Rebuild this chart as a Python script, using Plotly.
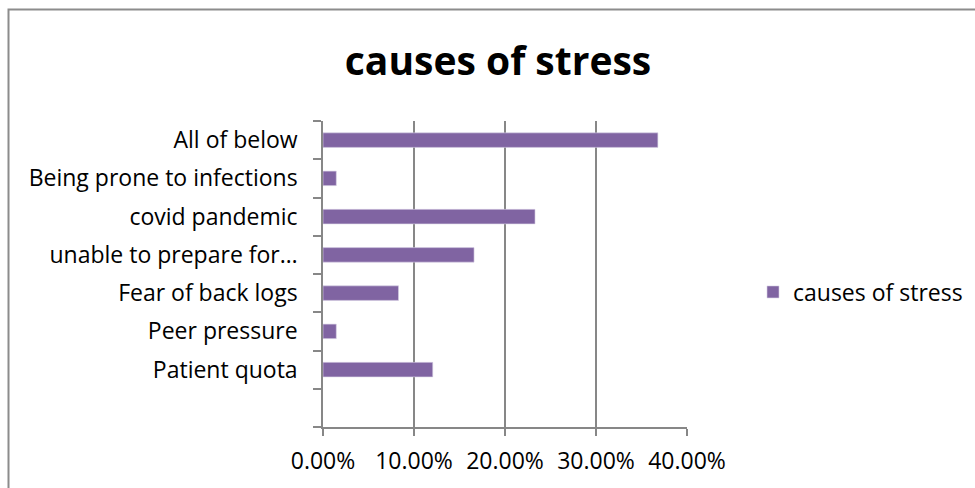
import plotly.graph_objects as go

# Categories listed bottom-to-top; the first slot is an empty category row
categories = [" ", "Patient quota", "Peer pressure", "Fear of back logs",
              "unable to prepare for…", "covid pandemic",
              "Being prone to infections", "All of below"]
values = [None, 0.1206, 0.0146, 0.083, 0.166, 0.233, 0.0146, 0.368]
series_name = "causes of stress"
x_ticks = [0.0, 0.1, 0.2, 0.3, 0.4]

W, H = 975, 488
L, R, T, B = 323, 288, 121, 61
PW, PH = W - L - R, H - T - B

BAR = "#8064A2"
GRID = "#878787"
FONT = "Open Sans"
FS = 23

fig = go.Figure()
fig.add_trace(go.Bar(
    y=categories, x=values, orientation="h", name=series_name,
    marker=dict(color=BAR, line=dict(color="#D9D2E6", width=0.6)),
    width=0.38, showlegend=True,
))

def px_x(p):
    return (p - L) / PW

def px_y(p):
    return (H - B - p) / PH

fig.update_layout(
    width=W, height=H,
    margin=dict(l=L, r=R, t=T, b=B, autoexpand=False),
    paper_bgcolor="white", plot_bgcolor="white",
    font=dict(family=FONT, color="#000000", size=FS),
    title=dict(text="<b>causes of stress</b>", x=498 / W, xanchor="center",
               y=1 - 61 / H, yanchor="middle", xref="container", yref="container",
               font=dict(family=FONT, size=39, color="#000000")),
    showlegend=True,
    legend=dict(x=px_x(753), y=px_y(292), xanchor="left", yanchor="middle",
                font=dict(family=FONT, size=FS), bgcolor="rgba(0,0,0,0)"),
    bargap=0.62,
    xaxis=dict(range=[0, 0.4], tickvals=x_ticks, tickformat=".2%",
               showgrid=True, gridcolor=GRID, gridwidth=1.5,
               showline=True, linecolor=GRID, linewidth=1.5,
               ticks="outside", ticklen=7, tickcolor=GRID, tickwidth=1.5,
               zeroline=False, fixedrange=True, ticklabelstandoff=6,
               tickfont=dict(family=FONT, size=FS)),
    yaxis=dict(type="category", categoryorder="array", categoryarray=categories,
               range=[-0.5, len(categories) - 0.5],
               tickson="boundaries", ticks="outside", ticklen=8,
               tickcolor=GRID, tickwidth=1.5,
               showline=True, linecolor=GRID, linewidth=1.5,
               showgrid=False, zeroline=False, fixedrange=True,
               ticklabelstandoff=19,
               tickfont=dict(family=FONT, size=FS)),
    shapes=[dict(type="rect", xref="paper", yref="paper",
                 x0=px_x(8.5), x1=px_x(990), y0=px_y(9.5), y1=px_y(500),
                 line=dict(color="#8C8C8C", width=2), layer="below")],
)

fig.write_html("out.html")
